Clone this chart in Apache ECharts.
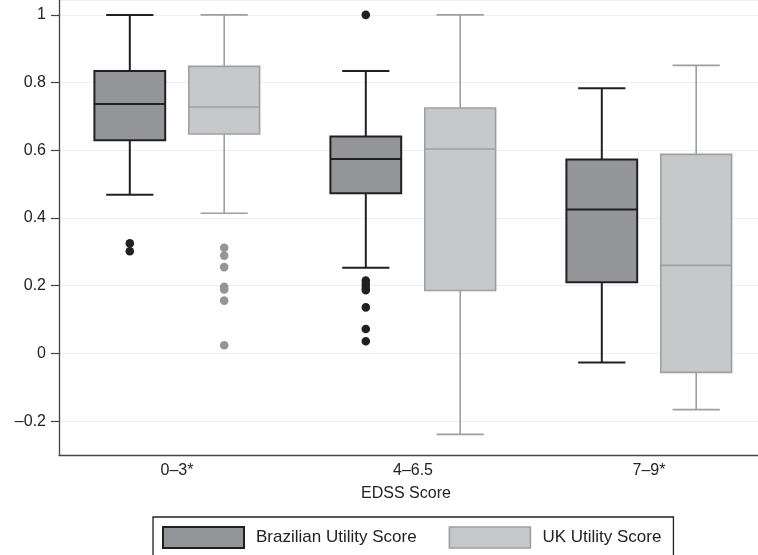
<!DOCTYPE html>
<html>
<head>
<meta charset="utf-8">
<script src="https://cdn.jsdelivr.net/npm/echarts@6/dist/echarts.min.js"></script>
<style>
html,body{margin:0;padding:0;background:#fff;overflow:hidden;}
#chart{width:767px;height:555px;}
</style>
</head>
<body>
<div id="chart"></div>
<script>
const categories = ['0\u20133*', '4\u20136.5', '7\u20139*'];
const seriesNames = ['Brazilian Utility Score', 'UK Utility Score'];
// [lowWhisker, Q1, median, Q3, highWhisker]
const brazilBox = [
  [0.469, 0.630, 0.737, 0.834, 1.000],
  [0.253, 0.473, 0.574, 0.641, 0.834],
  [-0.027, 0.210, 0.425, 0.573, 0.783]
];
const ukBox = [
  [0.414, 0.648, 0.728, 0.848, 1.000],
  [-0.239, 0.186, 0.604, 0.725, 1.000],
  [-0.166, -0.056, 0.260, 0.588, 0.851]
];
// [categoryIndex, value]
const brazilOutliers = [
  [0, 0.325], [0, 0.302],
  [1, 1.000], [1, 0.215], [1, 0.204], [1, 0.193], [1, 0.187], [1, 0.136], [1, 0.072], [1, 0.036]
];
const ukOutliers = [
  [0, 0.312], [0, 0.289], [0, 0.255], [0, 0.197], [0, 0.189], [0, 0.156], [0, 0.024]
];
const yTicks = { min: -0.3, max: 1.044 };

const FONT = 'Liberation Sans, Arial, sans-serif';
const AXIS = '#444444';
const styles = [
  { fill: '#939598', stroke: '#231f20', width: 2, dot: '#231f20', offset: -0.2 },
  { fill: '#c7c8ca', stroke: '#9d9fa2', width: 1.6, dot: '#939598', offset: 0.2 }
];

function boxRenderer(st) {
  return function (params, api) {
    const idx = api.value(0);
    const band = api.size([1, 0])[0];
    const cx = api.coord([idx, 0])[0] + st.offset * band;
    const y = k => api.coord([idx, api.value(k)])[1];
    const bw = 0.30 * band, cap = 0.20 * band;
    const ls = { stroke: st.stroke, lineWidth: st.width };
    return {
      type: 'group',
      children: [
        { type: 'line', shape: { x1: cx, y1: y(5), x2: cx, y2: y(4) }, style: ls },
        { type: 'line', shape: { x1: cx, y1: y(2), x2: cx, y2: y(1) }, style: ls },
        { type: 'line', shape: { x1: cx - cap / 2, y1: y(5), x2: cx + cap / 2, y2: y(5) }, style: ls },
        { type: 'line', shape: { x1: cx - cap / 2, y1: y(1), x2: cx + cap / 2, y2: y(1) }, style: ls },
        { type: 'rect', shape: { x: cx - bw / 2, y: y(4), width: bw, height: y(2) - y(4) },
          style: { fill: st.fill, stroke: st.stroke, lineWidth: st.width } },
        { type: 'line', shape: { x1: cx - bw / 2, y1: y(3), x2: cx + bw / 2, y2: y(3) }, style: ls }
      ]
    };
  };
}
function dotRenderer(st) {
  return function (params, api) {
    const idx = api.value(0);
    const band = api.size([1, 0])[0];
    const p = api.coord([idx, api.value(1)]);
    return { type: 'circle', shape: { cx: p[0] + st.offset * band, cy: p[1], r: 4.3 },
      style: { fill: st.dot } };
  };
}

const boxes = [brazilBox, ukBox];
const outs = [brazilOutliers, ukOutliers];
const series = [];
seriesNames.forEach((name, s) => {
  series.push({
    type: 'custom', name: name,
    itemStyle: { color: styles[s].fill, borderColor: styles[s].stroke, borderWidth: styles[s].width },
    renderItem: boxRenderer(styles[s]),
    encode: { x: 0, y: [1, 2, 3, 4, 5] },
    data: boxes[s].map((b, i) => [i].concat(b)),
    clip: false, silent: true
  });
});
seriesNames.forEach((name, s) => {
  series.push({
    type: 'custom', name: name,
    renderItem: dotRenderer(styles[s]),
    encode: { x: 0, y: 1 },
    data: outs[s],
    clip: false, silent: true
  });
});

const chart = echarts.init(document.getElementById('chart'), null, { renderer: 'canvas' });
chart.setOption({
  animation: false,
  backgroundColor: '#ffffff',
  textStyle: { fontFamily: FONT },
  grid: { left: 59, right: 0, top: 0, bottom: 100, containLabel: false },
  title: {
    text: 'EDSS Score', left: 406, top: 486, padding: 0,
    textAlign: 'center',
    textStyle: { fontFamily: FONT, fontSize: 16, fontWeight: 'normal', color: '#222' }
  },
  xAxis: {
    type: 'category', data: categories, boundaryGap: true,
    axisLine: { onZero: false, lineStyle: { color: AXIS, width: 1.3 } },
    axisTick: { show: false },
    axisLabel: { fontFamily: FONT, fontSize: 16, color: '#222', margin: 8 },
    splitLine: { show: false }
  },
  yAxis: {
    type: 'value', min: yTicks.min, max: yTicks.max, splitNumber: 7,
    axisLine: { show: true, lineStyle: { color: AXIS, width: 1.3 } },
    axisTick: { show: true, length: 8, lineStyle: { color: AXIS, width: 1.2 } },
    axisLabel: {
      fontFamily: FONT, fontSize: 16, color: '#222', margin: 13,
      showMinLabel: false, showMaxLabel: false,
      formatter: v => String(Math.round(v * 10) / 10).replace('-', '\u2013')
    },
    splitLine: { show: true, lineStyle: { color: '#eeeeee', width: 1.2 } }
  },
  legend: {
    left: 153, top: 517, orient: 'horizontal',
    data: seriesNames.map((n, s) => ({
      name: n, icon: 'rect',
      itemStyle: { color: styles[s].fill, borderColor: styles[s].stroke, borderWidth: styles[s].width }
    })),
    itemWidth: 81, itemHeight: 21, itemGap: 32,
    padding: [9, 12, 20, 9],
    borderColor: '#231f20', borderWidth: 1.3,
    textStyle: { fontFamily: FONT, fontSize: 17, color: '#222', padding: [0, 0, 0, 7] },
    selectedMode: false
  },
  series: series
});
</script>
</body>
</html>
